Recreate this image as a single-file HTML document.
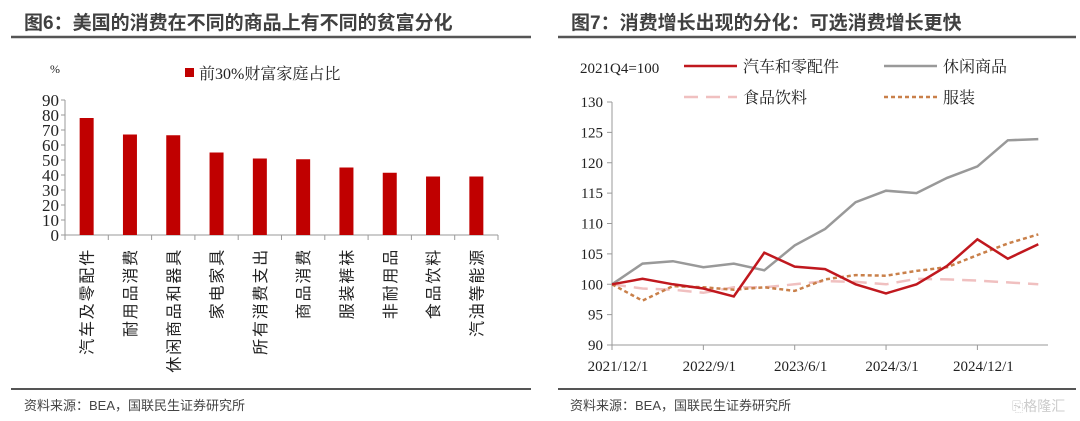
<!DOCTYPE html>
<html><head><meta charset="utf-8"><style>
html,body{margin:0;padding:0;background:#fff;}
svg{display:block;font-family:"Liberation Serif","Noto Serif CJK SC",serif;}
.t{font-family:"Liberation Sans","Noto Sans CJK SC",sans-serif;}
</style></head><body>
<svg id="s" width="1080" height="421" viewBox="0 0 1080 421">
<text class="t" x="24" y="29" font-size="19" font-weight="bold" fill="#404040">图6：美国的消费在不同的商品上有不同的贫富分化</text>
<text class="t" x="571" y="29" font-size="19" font-weight="bold" fill="#404040">图7：消费增长出现的分化：可选消费增长更快</text>
<line x1="11" y1="37" x2="531" y2="37" stroke="#555" stroke-width="2.5"/>
<line x1="558" y1="37" x2="1076" y2="37" stroke="#555" stroke-width="2.5"/>
<line x1="11" y1="389" x2="531" y2="389" stroke="#555" stroke-width="2"/>
<line x1="558" y1="389" x2="1076" y2="389" stroke="#555" stroke-width="2"/>
<text class="t" x="24" y="410" font-size="13" fill="#444">资料来源：BEA，国联民生证券研究所</text>
<text class="t" x="570" y="410" font-size="13" fill="#444">资料来源：BEA，国联民生证券研究所</text>
<text class="t" x="1012" y="411" font-size="14" fill="#ccc">⎘格隆汇</text>
<g id="left"></g>
<g id="right"></g>
</svg>
<script>
const barCategories=["汽车及零配件","耐用品消费","休闲商品和器具","家电家具","所有消费支出","商品消费","服装裤袜","非耐用品","食品饮料","汽油等能源"];
const barValues=[78,67,66.5,55,51,50.5,45,41.5,39,39];
const barTicks=[0,10,20,30,40,50,60,70,80,90];

const lineDates=["2021/12/1","","","2022/9/1","","","2023/6/1","","","2024/3/1","","","2024/12/1","",""];
const seriesAuto=[100,100.9,100,99.3,98,105.2,102.9,102.5,100,98.5,100,103,107.4,104.2,106.6];
const seriesLeisure=[100,103.4,103.8,102.8,103.4,102.3,106.4,109.1,113.5,115.4,115,117.5,119.4,123.7,123.9];
const seriesFood=[100,99.3,99.1,98.6,99.5,99.5,100,100.5,100.4,100,100.9,100.8,100.6,100.3,100];
const seriesApparel=[100,97.3,99.7,99.5,99.1,99.5,98.9,100.8,101.5,101.4,102.2,102.8,104.8,106.7,108.2];
const lineTicks=[90,95,100,105,110,115,120,125,130];

const NS="http://www.w3.org/2000/svg";
function mk(p,tag,a,txt){const e=document.createElementNS(NS,tag);for(const k in a)e.setAttribute(k,a[k]);if(txt!==undefined)e.textContent=txt;p.appendChild(e);return e;}

const L=document.getElementById('left');
const lx0=65,lx1=498,ly0=235,ly1=100;
const bw=(lx1-lx0)/barCategories.length;
const yL=v=>ly0-(v/90)*(ly0-ly1);
let e;
e=mk(L,'line',{x1:lx0,y1:ly1,x2:lx0,y2:ly0,stroke:'#999'});


e=mk(L,'line',{x1:lx0,y1:ly0,x2:lx1,y2:ly0,stroke:'#999'});


barTicks.forEach(t=>{
  mk(L,'line',{x1:lx0-4,y1:yL(t),x2:lx0,y2:yL(t),stroke:'#999'});
  e=mk(L,'text',{x:lx0-6,y:yL(t)+6,'text-anchor':'end','font-size':17,fill:'#222'},t);
  
  
});
for(let i=0;i<=barCategories.length;i++){mk(L,'line',{x1:lx0+i*bw,y1:ly0,x2:lx0+i*bw,y2:ly0+5,stroke:'#999'});}
barCategories.forEach((c,i)=>{
  const cx=lx0+(i+0.5)*bw;
  e=mk(L,'rect',{x:cx-7,y:yL(barValues[i]),width:14,height:ly0-yL(barValues[i]),fill:'#c00000'});
  
  
  e=mk(L,'text',{x:0,y:0,transform:`translate(${cx+6},248) rotate(-90)`,'text-anchor':'end','font-size':16,'letter-spacing':1.8,fill:'#222',class:'t'},c);
  
  
});
e=mk(L,'text',{x:50,y:73,'font-size':12,fill:'#222'},'%');


e=mk(L,'rect',{x:185,y:68,width:9,height:9,fill:'#c00000'});


e=mk(L,'text',{x:199,y:79,'font-size':16,fill:'#222'},'前30%财富家庭占比');



const R=document.getElementById('right');
const rx0=612,rdx=30.45,ry0=345,ry1=102;
const xR=i=>rx0+i*rdx;
const yR=v=>ry0-(v-90)/40*(ry0-ry1);
e=mk(R,'line',{x1:rx0,y1:ry1,x2:rx0,y2:ry0,stroke:'#999'});


e=mk(R,'line',{x1:rx0,y1:ry0,x2:1048,y2:ry0,stroke:'#999'});


lineTicks.forEach(t=>{
  mk(R,'line',{x1:rx0-5,y1:yR(t),x2:rx0,y2:yR(t),stroke:'#999'});
  e=mk(R,'text',{x:rx0-9,y:yR(t)+5,'text-anchor':'end','font-size':15,fill:'#222'},t);
  
  
});
lineDates.forEach((d,i)=>{
  if(!d)return;
  mk(R,'line',{x1:xR(i),y1:ry0,x2:xR(i),y2:ry0+5,stroke:'#999'});
  e=mk(R,'text',{x:xR(i)+6,y:ry0+26,'text-anchor':'middle','font-size':15,fill:'#222'},d);
  
  
});
function series(vals,color,w,dash,name){
  const d=vals.map((v,i)=>(i?'L':'M')+xR(i).toFixed(1)+','+yR(v).toFixed(1)).join('');
  const p=mk(R,'path',{d:d,fill:'none',stroke:color,'stroke-width':w,'stroke-dasharray':dash||'none'});
  
  
}
series(seriesFood,'#f0c0c0',2.5,'14,8','line-food');
series(seriesApparel,'#c9804a',2.5,'4,3','line-apparel');
series(seriesLeisure,'#999',2.5,null,'line-leisure');
series(seriesAuto,'#c0181e',2.5,null,'line-auto');
e=mk(R,'text',{x:580,y:73,'font-size':15,fill:'#222'},'2021Q4=100');


const leg=[[684,66,'#c0181e',null,'汽车和零配件'],[884,66,'#999',null,'休闲商品'],[684,97,'#f0c0c0','14,8','食品饮料'],[884,97,'#c9804a','4,3','服装']];
leg.forEach(l=>{
  const g=mk(R,'g',{});
  
  
  mk(g,'line',{x1:l[0],y1:l[1],x2:l[0]+53,y2:l[1],stroke:l[2],'stroke-width':2.5,'stroke-dasharray':l[3]||'none'});
  mk(g,'text',{x:l[0]+59,y:l[1]+6,'font-size':16,fill:'#222'},l[4]);
});
</script>
</body></html>
